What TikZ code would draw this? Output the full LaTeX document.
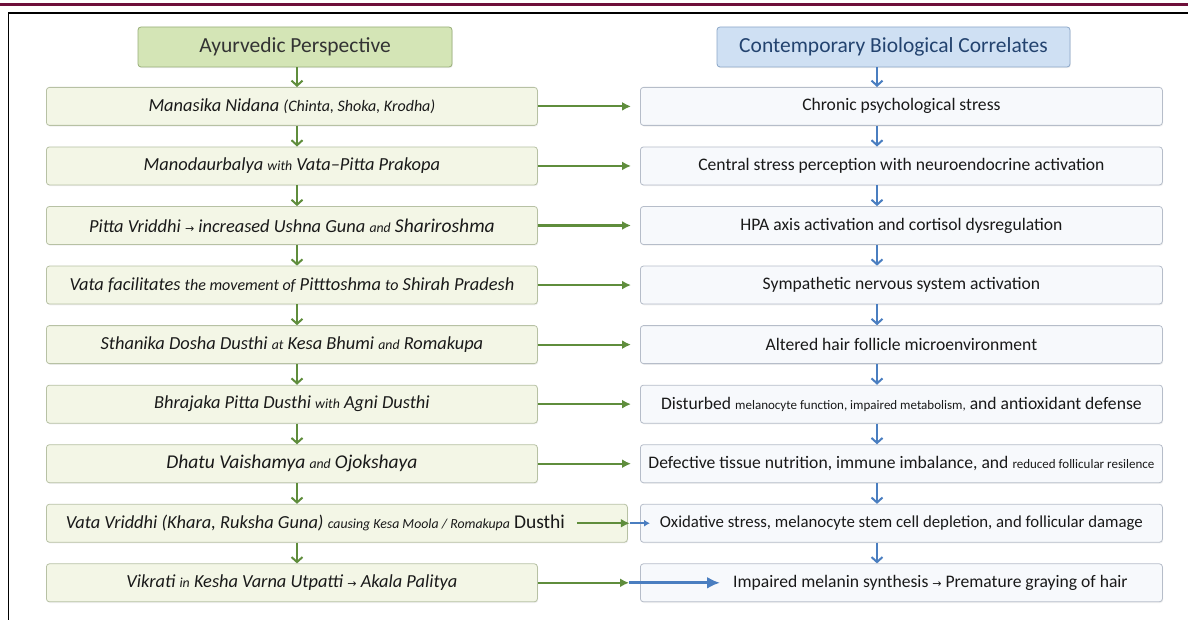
\documentclass[tikz,border=0pt]{standalone}
\usepackage{fontspec}
\setmainfont{Carlito}
\newfontfamily\symf{DejaVu Sans}
\usetikzlibrary{arrows.meta,positioning,shadows}
\definecolor{cmaroon}{HTML}{6E0F3A}
\definecolor{cayu}{HTML}{F3F6E6}
\definecolor{cayuD}{HTML}{B7C1A4}
\definecolor{cayuH}{HTML}{D4E5B6}
\definecolor{cayuHD}{HTML}{98AE78}
\definecolor{cbio}{HTML}{F7F9FC}
\definecolor{cbioD}{HTML}{B6BDC9}
\definecolor{cbioH}{HTML}{CFE0F3}
\definecolor{cbioHD}{HTML}{8CA7C8}
\definecolor{cgreen}{HTML}{5F8D3C}
\definecolor{cblue}{HTML}{4A7EC0}
\definecolor{cnavy}{HTML}{23436F}
\newcommand{\hfont}{\fontsize{21.5}{24}\selectfont}
\newcommand{\lfont}{\fontsize{18.4}{21}\selectfont\itshape}
\newcommand{\rfont}{\fontsize{17.6}{20}\selectfont}
\newcommand{\cword}[1]{{\fontsize{13.8}{16}\selectfont #1}}
\newcommand{\mword}[1]{{\fontsize{16}{18}\selectfont #1}}
\newcommand{\kterm}[1]{{\fontsize{19.5}{21}\selectfont #1}}
\newcommand{\rsmall}[1]{{\fontsize{13}{15}\selectfont #1}}
\newcommand{\arr}{{\symf\fontsize{11}{13}\selectfont →}}
\tikzset{
  bx/.style={draw, rounded corners=3pt, line width=0.8pt, minimum height=38pt,
             inner sep=4pt, align=center, text=black!90,
             drop shadow={opacity=0.12, shadow xshift=0.8pt, shadow yshift=-1.2pt}},
  hayu/.style={bx, fill=cayuH, draw=cayuHD, minimum width=314pt, minimum height=40pt,
               font=\hfont, text=black!80},
  hbio/.style={bx, fill=cbioH, draw=cbioHD, minimum width=353pt, minimum height=40pt,
               font=\hfont, text=cnavy},
  nayu/.style={bx, fill=cayu, draw=cayuD, minimum width=491pt, font=\lfont},
  nbio/.style={bx, fill=cbio, draw=cbioD, minimum width=522pt, font=\rfont},
  gflow/.style={-{Latex[length=9pt,width=9pt]}, line width=2.2pt, draw=cgreen},
  gdown/.style={-{Straight Barb[length=5pt,width=11pt]}, line width=2pt, draw=cgreen},
  bdown/.style={-{Straight Barb[length=5pt,width=11pt]}, line width=2pt, draw=cblue},
  bflow/.style={-{Latex[length=6pt,width=7pt]}, line width=2pt, draw=cblue},
  bflowk/.style={-{Latex[length=13pt,width=12pt]}, line width=3pt, draw=cblue},
}
\begin{document}
\begin{tikzpicture}[x=1pt, y=-1pt, node distance=20.75pt]
  \useasboundingbox (0,0) rectangle (1188,620);
  % page rules
  \fill[cmaroon] (0,3.5) rectangle (1188,6.5);
  \draw[line width=1.5pt] (1188,13) -- (8.5,13) -- (8.5,620);
  % headers
  \node[hayu] (hA) at (295,47) {Ayurvedic Perspective};
  \node[hbio] (hB) at (893.5,47) {Contemporary Biological Correlates};
  \coordinate (lx) at (297,0);
  \coordinate (rx) at (877,0);
  % ayurvedic column
  \node[nayu, anchor=north west] (a1) at (46,87)
    {Manasika Nidana \mword{(Chinta, Shoka, Krodha)}};
  \node[nayu, below=of a1.south west, anchor=north west] (a2)
    {Manodaurbalya \cword{with} Vata--Pitta Prakopa};
  \node[nayu, below=of a2.south west, anchor=north west] (a3)
    {Pitta Vriddhi \arr{} increased Ushna Guna \cword{and} \kterm{Shariroshma}};
  \node[nayu, below=of a3.south west, anchor=north west] (a4)
    {Vata facilitates \mword{the movement of} Pitttoshma \mword{to} Shirah Pradesh};
  \node[nayu, below=of a4.south west, anchor=north west] (a5)
    {Sthanika Dosha Dusthi \cword{at} Kesa Bhumi \cword{and} Romakupa};
  \node[nayu, below=of a5.south west, anchor=north west] (a6)
    {Bhrajaka Pitta Dusthi \cword{with} Agni Dusthi};
  \node[nayu, below=of a6.south west, anchor=north west] (a7)
    {\kterm{Dhatu Vaishamya} \cword{and} \kterm{Ojokshaya}};
  \node[nayu, below=of a7.south west, anchor=north west, minimum width=581pt] (a8)
    {Vata Vriddhi (Khara, Ruksha Guna) \cword{causing Kesa Moola / Romakupa} \kterm{\upshape Dusthi}\hspace*{43pt}};
  \node[nayu, below=of a8.south west, anchor=north west] (a9)
    {Vikrati \cword{in} Kesha Varna Utpatti \arr{} Akala Palitya};
  % biological column
  \node[nbio, anchor=north west] (r1) at (640,87) {Chronic psychological stress};
  \node[nbio, below=of r1.south west, anchor=north west] (r2)
    {Central stress perception with neuroendocrine activation};
  \node[nbio, below=of r2.south west, anchor=north west] (r3)
    {HPA axis activation and cortisol dysregulation};
  \node[nbio, below=of r3.south west, anchor=north west] (r4)
    {Sympathetic nervous system activation};
  \node[nbio, below=of r4.south west, anchor=north west] (r5)
    {Altered hair follicle microenvironment};
  \node[nbio, below=of r5.south west, anchor=north west] (r6)
    {Disturbed \rsmall{melanocyte function, impaired metabolism,} and antioxidant defense};
  \node[nbio, below=of r6.south west, anchor=north west] (r7)
    {Defective tissue nutrition, immune imbalance, and \rsmall{reduced follicular resilence}};
  \node[nbio, below=of r7.south west, anchor=north west, font=\fontsize{16.8}{20}\selectfont] (r8)
    {Oxidative stress, melanocyte stem cell depletion, and follicular damage};
  \node[nbio, below=of r8.south west, anchor=north west] (r9)
    {\hspace*{58pt}Impaired melanin synthesis \arr{} Premature graying of hair};
  % vertical flow
  \draw[gdown] (hA.south -| lx) -- (a1.north -| lx);
  \draw[gdown] (a1.south -| lx) -- (a2.north -| lx); \draw[gdown] (a2.south -| lx) -- (a3.north -| lx);
  \draw[gdown] (a3.south -| lx) -- (a4.north -| lx); \draw[gdown] (a4.south -| lx) -- (a5.north -| lx);
  \draw[gdown] (a5.south -| lx) -- (a6.north -| lx); \draw[gdown] (a6.south -| lx) -- (a7.north -| lx);
  \draw[gdown] (a7.south -| lx) -- (a8.north -| lx); \draw[gdown] (a8.south -| lx) -- (a9.north -| lx);
  \draw[bdown] (hB.south -| rx) -- (r1.north -| rx);
  \draw[bdown] (r1.south -| rx) -- (r2.north -| rx); \draw[bdown] (r2.south -| rx) -- (r3.north -| rx);
  \draw[bdown] (r3.south -| rx) -- (r4.north -| rx); \draw[bdown] (r4.south -| rx) -- (r5.north -| rx);
  \draw[bdown] (r5.south -| rx) -- (r6.north -| rx); \draw[bdown] (r6.south -| rx) -- (r7.north -| rx);
  \draw[bdown] (r7.south -| rx) -- (r8.north -| rx); \draw[bdown] (r8.south -| rx) -- (r9.north -| rx);
  % correlations across
  \draw[gflow, shorten >=9pt] (a1) -- (r1); \draw[gflow, shorten >=9pt] (a2) -- (r2);
  \draw[gflow, shorten >=9pt] (a3) -- (r3); \draw[gflow, shorten >=9pt] (a4) -- (r4);
  \draw[gflow, shorten >=9pt] (a5) -- (r5); \draw[gflow, shorten >=9pt] (a6) -- (r6);
  \draw[gflow, shorten >=9pt] (a7) -- (r7);
  \draw[gflow] ([xshift=-51pt]a8.east) -- ([xshift=2pt]a8.east);
  \draw[bflow] ([xshift=2pt]a8.east) -- ([xshift=10pt]r8.west);
  \draw[gflow] (a9) -- ([xshift=-11pt]r9.west);
  \draw[bflowk] ([xshift=-11pt]r9.west) -- ([xshift=80pt]r9.west);
\end{tikzpicture}
\end{document}
